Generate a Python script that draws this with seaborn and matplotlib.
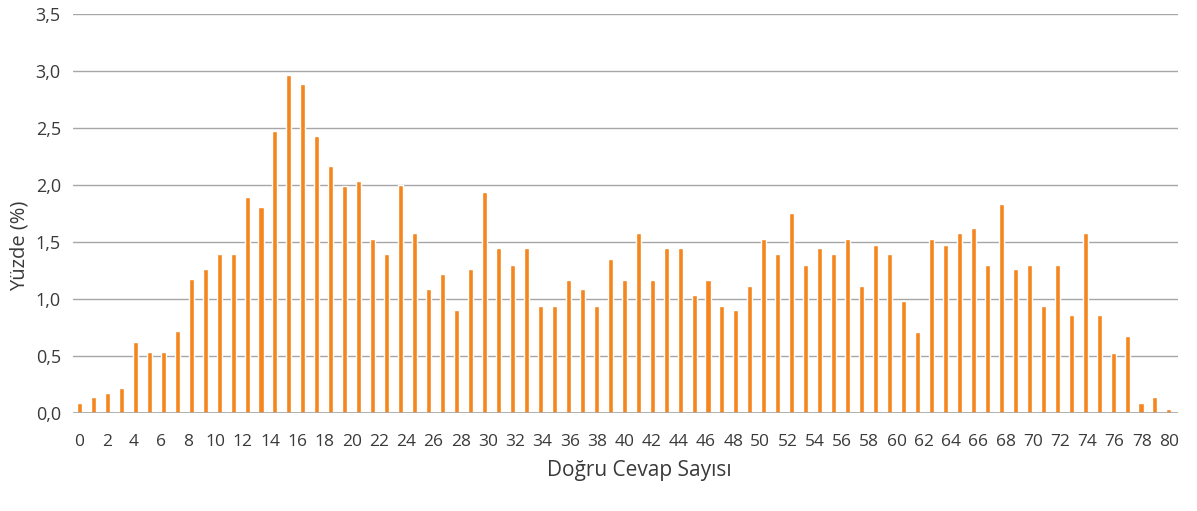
import numpy as np
import pandas as pd
import matplotlib
matplotlib.use("Agg")
import matplotlib.pyplot as plt
import seaborn as sns
from matplotlib.ticker import FuncFormatter

# Yüzde değerleri (grafikteki 79 sütun, soldan sağa)
yuzde = [
    0.09, 0.14, 0.18, 0.22, 0.63, 0.54, 0.54, 0.72, 1.18, 1.27,
    1.40, 1.40, 1.90, 1.81, 2.48, 2.97, 2.89, 2.43, 2.17, 1.99,
    2.04, 1.53, 1.40, 2.00, 1.58, 1.09, 1.22, 0.91, 1.27, 1.94,
    1.45, 1.30, 1.45, 0.94, 0.94, 1.17, 1.09, 0.94, 1.35, 1.17,
    1.58, 1.17, 1.45, 1.45, 1.04, 1.17, 0.94, 0.91, 1.12, 1.53,
    1.40, 1.76, 1.30, 1.45, 1.40, 1.53, 1.12, 1.48, 1.40, 0.99,
    0.71, 1.53, 1.48, 1.58, 1.63, 1.30, 1.84, 1.27, 1.30, 0.94,
    1.30, 0.86, 1.58, 0.86, 0.53, 0.68, 0.09, 0.14, 0.04,
]
sutun = list(range(len(yuzde)))
x_tick_labels = [str(v) for v in range(0, 81, 2)]
y_ticks = [0.0, 0.5, 1.0, 1.5, 2.0, 2.5, 3.0, 3.5]

df = pd.DataFrame({"sutun": sutun, "yuzde": yuzde})

sns.set_theme(style="white")
plt.rcParams["font.family"] = ["Open Sans", "DejaVu Sans"]
text_color = "#3a3a3a"
grid_color = "#a6a6a6"
bar_color = "#f5861f"

fig = plt.figure(figsize=(11.97, 5.11), dpi=100)
ax = fig.add_axes([0.0612, 0.191, 0.9226, 0.781])

sns.barplot(data=df, x="sutun", y="yuzde", color=bar_color, width=0.36,
            saturation=1, ax=ax, zorder=3)

n = len(yuzde)
ax.set_ylim(0, 3.5)
ax.set_xlim(-0.44, n - 1 + 0.62)
ax.set_yticks(y_ticks)
ax.yaxis.set_major_formatter(FuncFormatter(lambda v, p: f"{v:.1f}".replace(".", ",")))
# etiketler 0-80 arası eşit aralıklı, sütunların ilk ve sonuna hizalı
ax.set_xticks(np.linspace(0, n - 1, len(x_tick_labels)))
ax.set_xticklabels(x_tick_labels)

ax.yaxis.grid(True, color=grid_color, linewidth=1.0, zorder=0)
ax.xaxis.grid(False)
for s in ["top", "right", "left", "bottom"]:
    ax.spines[s].set_visible(False)
ax.axhline(0, color=grid_color, linewidth=1.2, zorder=4)

ax.tick_params(axis="x", length=0, pad=15, labelsize=12.5, colors=text_color)
ax.tick_params(axis="y", length=0, pad=9, labelsize=13, colors=text_color)

ax.set_xlabel("Doğru Cevap Sayısı", fontsize=15, color=text_color)
ax.set_ylabel("Yüzde (%)", fontsize=14.5, color=text_color)
ax.xaxis.set_label_coords(0.513, -0.118)
ax.yaxis.set_label_coords(-0.04, 0.42)

fig.savefig("out.png", dpi=100)
